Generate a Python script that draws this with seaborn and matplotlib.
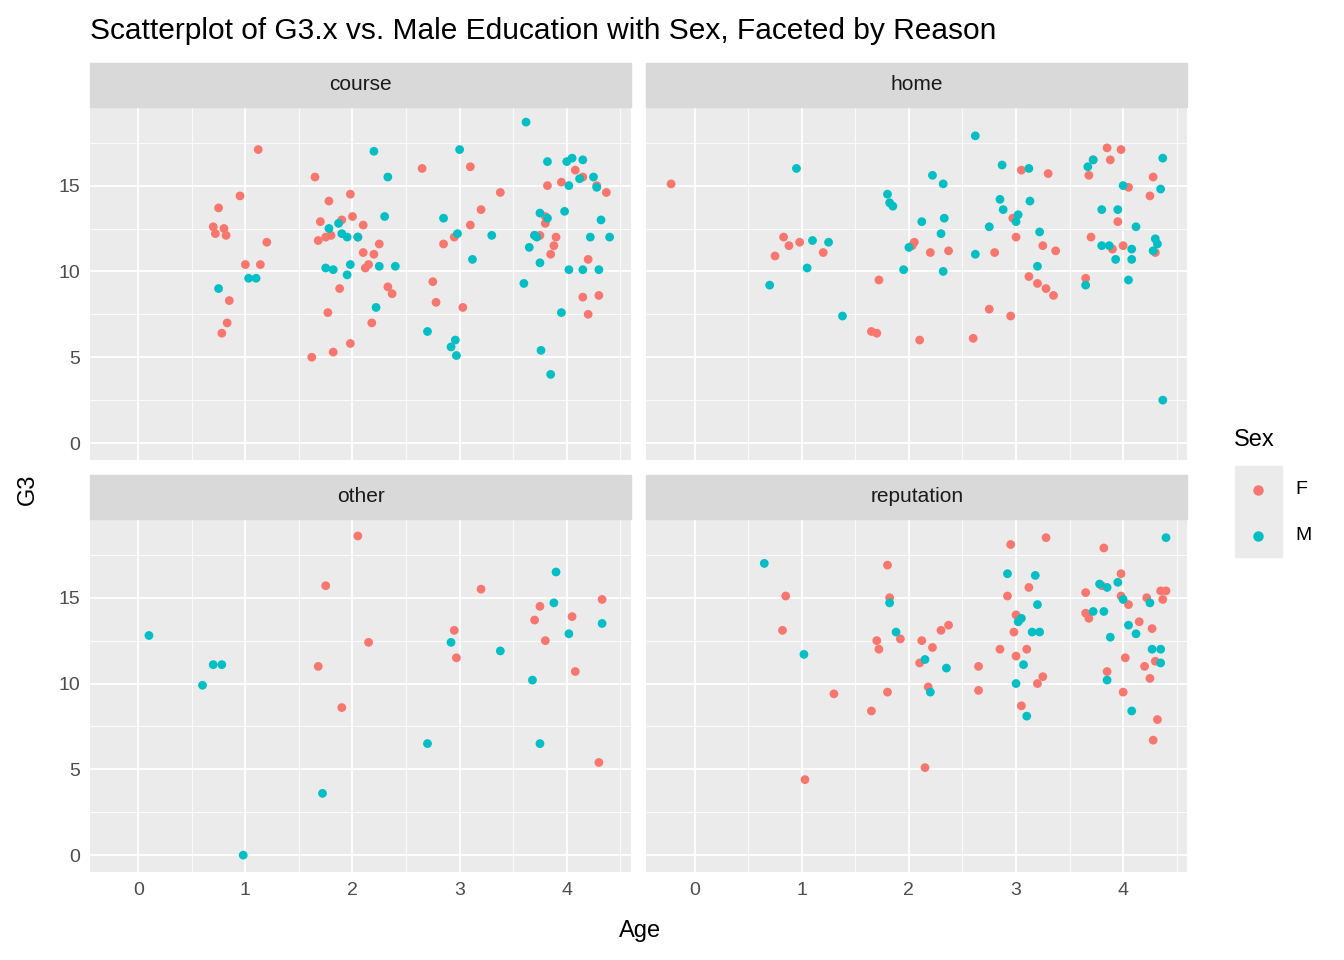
import pandas as pd
import seaborn as sns
import matplotlib.pyplot as plt
from matplotlib.patches import Rectangle

course_f = [(0.7,12.6),(0.72,12.2),(0.75,13.7),(0.8,12.5),(0.82,12.1),(0.78,6.4),(0.83,7),(0.85,8.3),(0.95,14.4),(1.0,10.4),(1.12,17.1),(1.14,10.4),(1.2,11.7),(1.65,15.5),(1.62,5),(1.68,11.8),(1.7,12.9),(1.75,12),(1.77,7.6),(1.78,14.1),(1.8,12.1),(1.82,5.3),(1.88,9),(1.9,13),(1.98,14.5),(2.0,13.2),(1.98,5.8),(2.05,12),(2.1,11.1),(2.12,10.2),(2.15,10.4),(2.18,7),(2.2,11),(2.25,11.6),(2.33,9.1),(2.37,8.7),(2.1,12.7),(2.65,16),(2.75,9.4),(2.78,8.2),(2.85,11.6),(2.95,12),(3.03,7.9),(3.1,16.1),(3.1,12.7),(3.2,13.6),(3.38,14.6),(3.7,12.1),(3.75,12.1),(3.8,12.8),(3.82,15),(3.85,11),(3.88,11.5),(3.9,12),(3.95,15.2),(3.8,13.2),(4.08,15.9),(4.15,8.5),(4.2,7.5),(4.2,10.7),(4.28,15),(4.3,8.6),(4.37,14.6),(4.15,15.5)]
course_m = [(0.75,9),(1.03,9.6),(1.1,9.6),(1.75,10.2),(1.78,12.5),(1.82,10.1),(1.87,12.8),(1.9,12.2),(1.95,12),(1.95,9.8),(1.98,10.4),(2.05,12),(2.2,17),(2.22,7.9),(2.25,10.3),(2.3,13.2),(2.33,15.5),(2.4,10.3),(2.7,6.5),(2.85,13.1),(2.92,5.6),(2.96,6),(2.97,5.1),(3.0,17.1),(2.98,12.2),(3.12,10.7),(3.3,12.1),(3.6,9.3),(3.62,18.7),(3.65,11.4),(3.7,12.1),(3.72,12),(3.75,13.4),(3.75,10.5),(3.76,5.4),(3.82,16.4),(3.85,4),(3.82,13.1),(3.95,7.6),(3.98,13.5),(4.0,16.4),(4.02,15),(4.02,10.1),(4.05,16.6),(4.12,15.4),(4.15,16.5),(4.15,10.1),(4.22,12),(4.25,15.5),(4.3,10.1),(4.32,13),(4.4,12),(4.28,14.9)]
home_f = [(-0.22,15.1),(0.75,10.9),(0.83,12),(0.88,11.5),(0.98,11.7),(1.2,11.1),(1.65,6.5),(1.7,6.4),(1.72,9.5),(2.03,11.5),(2.05,11.7),(2.1,6),(2.2,11.1),(2.37,11.2),(2.6,6.1),(2.75,7.8),(2.8,11.1),(2.95,7.4),(2.97,13.1),(3.0,12),(3.05,15.9),(3.12,9.7),(3.2,9.3),(3.25,11.5),(3.28,9),(3.3,15.7),(3.35,8.6),(3.37,11.2),(3.65,9.6),(3.68,15.6),(3.7,12),(3.72,16.5),(3.85,17.2),(3.88,16.5),(3.95,12.9),(3.98,17.1),(4.0,11.5),(4.05,14.9),(4.25,14.4),(4.28,15.5),(4.3,11.1),(3.9,11.3)]
home_m = [(0.7,9.2),(0.95,16),(1.05,10.2),(1.1,11.8),(1.25,11.7),(1.38,7.4),(1.8,14.5),(1.82,14),(1.85,13.8),(1.95,10.1),(2.0,11.4),(2.12,12.9),(2.22,15.6),(2.3,12.2),(2.32,10),(2.32,15.1),(2.33,13.1),(2.62,17.9),(2.62,11),(2.75,12.6),(2.85,14.2),(2.87,16.2),(2.88,13.6),(3.0,12.9),(3.02,13.3),(3.12,16),(3.13,14.1),(3.2,10.3),(3.22,12.3),(3.65,9.2),(3.67,16.1),(3.72,16.5),(3.8,13.6),(3.8,11.5),(3.87,11.5),(3.93,10.7),(3.95,13.6),(4.0,15),(4.05,9.5),(4.08,10.7),(4.08,11.3),(4.12,12.6),(4.28,11.2),(4.3,11.9),(4.32,11.6),(4.35,14.8),(4.37,16.6),(4.37,2.5)]
other_f = [(1.68,11),(1.75,15.7),(1.9,8.6),(2.05,18.6),(2.15,12.4),(2.95,13.1),(2.97,11.5),(3.2,15.5),(3.7,13.7),(3.75,14.5),(3.8,12.5),(4.05,13.9),(4.08,10.7),(4.3,5.4),(4.33,14.9)]
other_m = [(0.1,12.8),(0.6,9.9),(0.7,11.1),(0.78,11.1),(0.98,0),(1.72,3.6),(2.7,6.5),(2.92,12.4),(3.38,11.9),(3.68,10.2),(3.75,6.5),(3.88,14.7),(3.9,16.5),(4.02,12.9),(4.33,13.5)]
reputation_f = [(0.82,13.1),(0.85,15.1),(1.03,4.4),(1.3,9.4),(1.65,8.4),(1.7,12.5),(1.72,12),(1.8,9.5),(1.8,16.9),(1.82,15),(1.92,12.6),(2.1,11.2),(2.12,12.5),(2.15,5.1),(2.18,9.8),(2.22,12.1),(2.3,13.1),(2.37,13.4),(2.65,9.6),(2.65,11),(2.85,12),(2.92,15.1),(2.95,18.1),(2.98,13),(3.0,14),(3.0,11.6),(3.05,8.7),(3.1,12),(3.12,15.6),(3.2,10),(3.25,10.4),(3.28,18.5),(3.65,15.3),(3.65,14.1),(3.68,13.8),(3.8,15.7),(3.82,17.9),(3.85,10.7),(3.98,16.4),(3.98,15.1),(4.0,9.5),(4.02,11.5),(4.05,14.6),(4.15,13.6),(4.2,11),(4.22,15),(4.25,10.3),(4.27,13.2),(4.28,6.7),(4.3,11.3),(4.32,7.9),(4.35,15.4),(4.37,14.9),(4.4,15.4)]
reputation_m = [(0.65,17),(1.02,11.7),(1.82,14.7),(1.88,13),(2.15,11.4),(2.2,9.5),(2.35,10.9),(2.92,16.4),(3.0,10),(3.02,13.6),(3.05,13.8),(3.07,11.1),(3.1,8.1),(3.15,13),(3.18,16.3),(3.2,14.6),(3.22,13),(3.72,14.2),(3.78,15.8),(3.82,14.2),(3.85,15.6),(3.85,10.2),(3.88,12.7),(3.95,15.9),(4.0,14.9),(4.05,13.4),(4.08,8.4),(4.12,12.9),(4.25,14.7),(4.27,12),(4.35,11.2),(4.35,12),(4.4,18.5)]

panels = {'course': (course_f, course_m), 'home': (home_f, home_m),
          'other': (other_f, other_m), 'reputation': (reputation_f, reputation_m)}
rows = []
for reason, (f, m) in panels.items():
    rows += [(reason, 'F', x, y) for x, y in f]
    rows += [(reason, 'M', x, y) for x, y in m]
df = pd.DataFrame(rows, columns=['reason', 'sex', 'age', 'g3'])

sns.set_theme(style='darkgrid', rc={'axes.facecolor': '#EBEBEB', 'grid.color': 'white'})
plt.rcParams['font.family'] = ['Arial', 'Liberation Sans', 'DejaVu Sans']
palette = {'F': '#F8766D', 'M': '#00BFC4'}

fig = plt.figure(figsize=(13.44, 9.6), dpi=100)
lefts = [0.067, 0.481]
bottoms = [0.521, 0.0917]
w, h = 0.4025, 0.367
strip_h = 44 / 960
for i, reason in enumerate(panels):
    r, c = divmod(i, 2)
    ax = fig.add_axes([lefts[c], bottoms[r], w, h])
    sns.scatterplot(data=df[df.reason == reason], x='age', y='g3', hue='sex',
                    palette=palette, s=40, linewidth=0, ax=ax, legend=False)
    ax.set_xlim(-0.45, 4.6)
    ax.set_ylim(-0.98, 19.55)
    ax.set_xticks([0, 1, 2, 3, 4])
    ax.set_yticks([0, 5, 10, 15])
    ax.set_xticks([0.5, 1.5, 2.5, 3.5, 4.5], minor=True)
    ax.set_yticks([2.5, 7.5, 12.5, 17.5], minor=True)
    ax.grid(which='major', color='white', linewidth=1.3)
    ax.grid(which='minor', color='white', linewidth=0.6)
    ax.tick_params(which='major', length=4, color='#333333', labelsize=14, labelcolor='#4D4D4D', pad=3)
    ax.tick_params(which='minor', length=0)
    for s in ax.spines.values():
        s.set_visible(False)
    ax.set_xlabel('')
    ax.set_ylabel('')
    if r == 0:
        ax.tick_params(axis='x', labelbottom=False, length=0)
    if c == 1:
        ax.tick_params(axis='y', labelleft=False, length=0)
    fig.patches.append(Rectangle((lefts[c], bottoms[r] + h + 1 / 960), w, strip_h,
                                 transform=fig.transFigure, color='#D9D9D9'))
    fig.text(lefts[c] + w / 2, bottoms[r] + h + 1 / 960 + strip_h / 2, reason,
             ha='center', va='center', fontsize=15, color='#1A1A1A')

fig.text(0.067, 0.968, 'Scatterplot of G3.x vs. Male Education with Sex, Faceted by Reason',
         fontsize=21.5, va='center', ha='left', color='black')
fig.text(0.476, 0.03, 'Age', fontsize=17, ha='center', va='center', color='black')
fig.text(0.021, 0.49, 'G3', fontsize=17, ha='center', va='center', rotation=90, color='black')

fig.text(0.918, 0.542, 'Sex', fontsize=17, ha='left', va='center', color='black')
fig.patches.append(Rectangle((0.919, 0.42), 0.0345, 0.095, transform=fig.transFigure, color='#EBEBEB'))
for yy, lab in [(0.49, 'F'), (0.442, 'M')]:
    fig.lines.append(plt.Line2D([0.936], [yy], marker='o', markersize=6.5, color=palette[lab],
                                linestyle='', transform=fig.transFigure))
    fig.text(0.964, yy, lab, fontsize=14, va='center', ha='left', color='black')

fig.savefig('out.png', dpi=100)
